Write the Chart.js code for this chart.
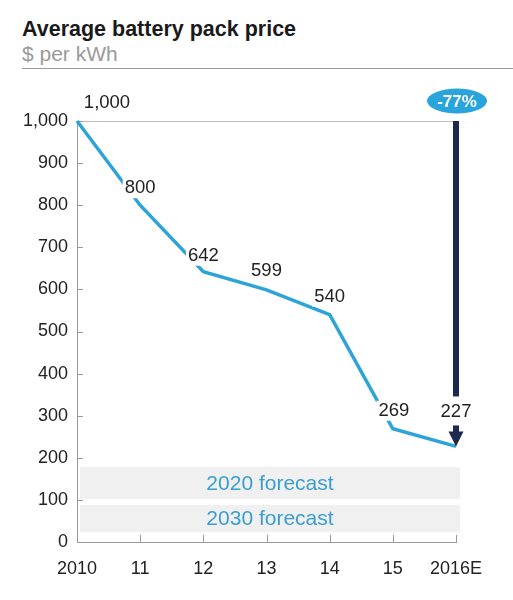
<!DOCTYPE html>
<html>
<head>
<meta charset="utf-8">
<script src="https://cdn.jsdelivr.net/npm/chart.js@4.4.1/dist/chart.umd.min.js"></script>
<style>
  body { margin: 0; background: #fff; font-family: "Liberation Sans", Arial, sans-serif; }
  #wrap { position: relative; width: 513px; height: 600px; }
  #titulo { position: absolute; left: 22px; top: 16px; font-size: 21.5px; font-weight: bold; color: #1a1a1a; line-height: 26px; }
  #subtitulo { position: absolute; left: 22px; top: 41px; font-size: 21px; color: #9a9a9a; line-height: 26px; }
  #linha { position: absolute; left: 22px; right: 0; top: 68px; border-top: 1px solid #9c9c9c; }
  canvas { position: absolute; left: 0; top: 0; }
</style>
</head>
<body>
<div id="wrap">
  <div id="titulo">Average battery pack price</div>
  <div id="subtitulo">$ per kWh</div>
  <div id="linha"></div>
  <canvas id="grafico" width="513" height="600"></canvas>
</div>
<script>
// Dados
const anos = ['2010', '11', '12', '13', '14', '15', '2016E'];
const precos = [1000, 800, 642, 599, 540, 269, 227];
const rotulos = ['1,000', '800', '642', '599', '540', '269', '227'];
const faixaNomes = ['2020 forecast', '2030 forecast'];
const faixaMin = [102, 24];
const faixaMax = [178, 88];
const reducao = '-77%';

const AZUL = '#2ea3d8';
const MARINHO = '#1b2a4e';

// deslocamento dos rótulos em px (dx, dy) e fundo branco
const offsetsRotulos = [[30, -18], [0, -17], [0, -16], [0, -19], [0, -18], [1, -18], [0, -35]];

const pluginExtras = {
  id: 'extras',
  beforeDatasetsDraw(chart) {
    const { ctx, chartArea, scales } = chart;
    const y = scales.y;
    ctx.save();
    // faixas de previsão
    faixaNomes.forEach((nome, i) => {
      const top = y.getPixelForValue(faixaMax[i]);
      const bot = y.getPixelForValue(faixaMin[i]);
      const l = chartArea.left + 3, r = chartArea.right + 4;
      ctx.fillStyle = '#f0f0f0';
      ctx.fillRect(l, top, r - l, bot - top);
      ctx.fillStyle = '#3a9fd0';
      ctx.font = '21px "Liberation Sans", Arial';
      ctx.textAlign = 'center';
      ctx.textBaseline = 'middle';
      ctx.fillText(nome, (l + r) / 2, (top + bot) / 2 + 1);
    });
    // marcas internas nos eixos
    ctx.strokeStyle = '#999';
    ctx.lineWidth = 1;
    y.ticks.forEach((t, i) => {
      const py = Math.round(y.getPixelForTick(i)) + 0.5;
      ctx.beginPath(); ctx.moveTo(chartArea.left, py); ctx.lineTo(chartArea.left + 6, py); ctx.stroke();
    });
    const x = scales.x;
    x.ticks.forEach((t, i) => {
      const px = Math.round(x.getPixelForTick(i)) + 0.5;
      ctx.beginPath(); ctx.moveTo(px, chartArea.bottom); ctx.lineTo(px, chartArea.bottom - 7); ctx.stroke();
    });
    ctx.restore();
  },
  afterDatasetsDraw(chart) {
    const { ctx, scales } = chart;
    const x = scales.x, y = scales.y;
    const meta = chart.getDatasetMeta(0);
    ctx.save();
    ctx.font = '18.5px "Liberation Sans", Arial';
    ctx.textAlign = 'center';
    ctx.textBaseline = 'middle';
    meta.data.forEach((pt, i) => {
      const cx = pt.x + offsetsRotulos[i][0];
      const cy = pt.y + offsetsRotulos[i][1];
      const w = ctx.measureText(rotulos[i]).width;
      ctx.fillStyle = '#fff';
      ctx.fillRect(cx - w / 2 - 2, cy - 10, w + 4, 20);
      ctx.fillStyle = '#222';
      ctx.fillText(rotulos[i], cx, cy);
    });

    // seta de redução
    const ultimo = precos.length - 1;
    const ax = x.getPixelForValue(ultimo);
    const yTopo = y.getPixelForValue(precos[0]);
    const yFim = y.getPixelForValue(precos[ultimo]);
    const yRot = meta.data[ultimo].y + offsetsRotulos[ultimo][1];
    ctx.fillStyle = MARINHO;
    ctx.fillRect(ax - 3, yTopo, 6, (yRot - 15) - yTopo);
    ctx.fillRect(ax - 3, yRot + 14, 6, (yFim - 12) - (yRot + 14));
    ctx.beginPath();
    ctx.moveTo(ax - 7.5, yFim - 15);
    ctx.lineTo(ax + 7.5, yFim - 15);
    ctx.lineTo(ax, yFim);
    ctx.closePath();
    ctx.fill();

    // selo
    const by = yTopo - 20;
    ctx.fillStyle = '#2aa4dc';
    ctx.beginPath();
    ctx.ellipse(ax + 1, by, 30, 12.5, 0, 0, Math.PI * 2);
    ctx.fill();
    ctx.fillStyle = '#fff';
    ctx.font = 'bold 17px "Liberation Sans", Arial';
    ctx.fillText(reducao, ax + 1, by + 1);
    ctx.restore();
  }
};

const ctx = document.getElementById('grafico').getContext('2d');
const grafico = new Chart(ctx, {
  type: 'line',
  data: {
    labels: anos,
    datasets: [{
      data: precos,
      borderColor: AZUL,
      borderWidth: 3.5,
      pointRadius: 0,
      tension: 0,
      clip: false
    }]
  },
  options: {
    responsive: false,
    animation: false,
    layout: { padding: { top: 121, right: 57, left: 0, bottom: 0 } },
    plugins: { legend: { display: false }, tooltip: { enabled: false } },
    scales: {
      x: {
        offset: false,
        grid: { display: false, drawTicks: false },
        border: { display: true, color: '#999', width: 1 },
        ticks: {
          color: '#222',
          font: { size: 18, family: '"Liberation Sans", Arial' },
          padding: 16,
          maxRotation: 0,
          autoSkip: false
        },
        afterFit(scale) { scale.height = 58; }
      },
      y: {
        min: 0,
        max: 1000,
        grid: {
          drawTicks: false,
          color: c => (c.tick && c.tick.value === 1000 ? '#bdbdbd' : 'rgba(0,0,0,0)')
        },
        border: { display: true, color: '#999', width: 1 },
        ticks: {
          stepSize: 100,
          color: '#222',
          font: { size: 18, family: '"Liberation Sans", Arial' },
          padding: 9,
          callback: v => v.toLocaleString('en-US')
        },
        afterFit(scale) { scale.width = 77; }
      }
    }
  },
  plugins: [pluginExtras]
});
</script>
</body>
</html>
